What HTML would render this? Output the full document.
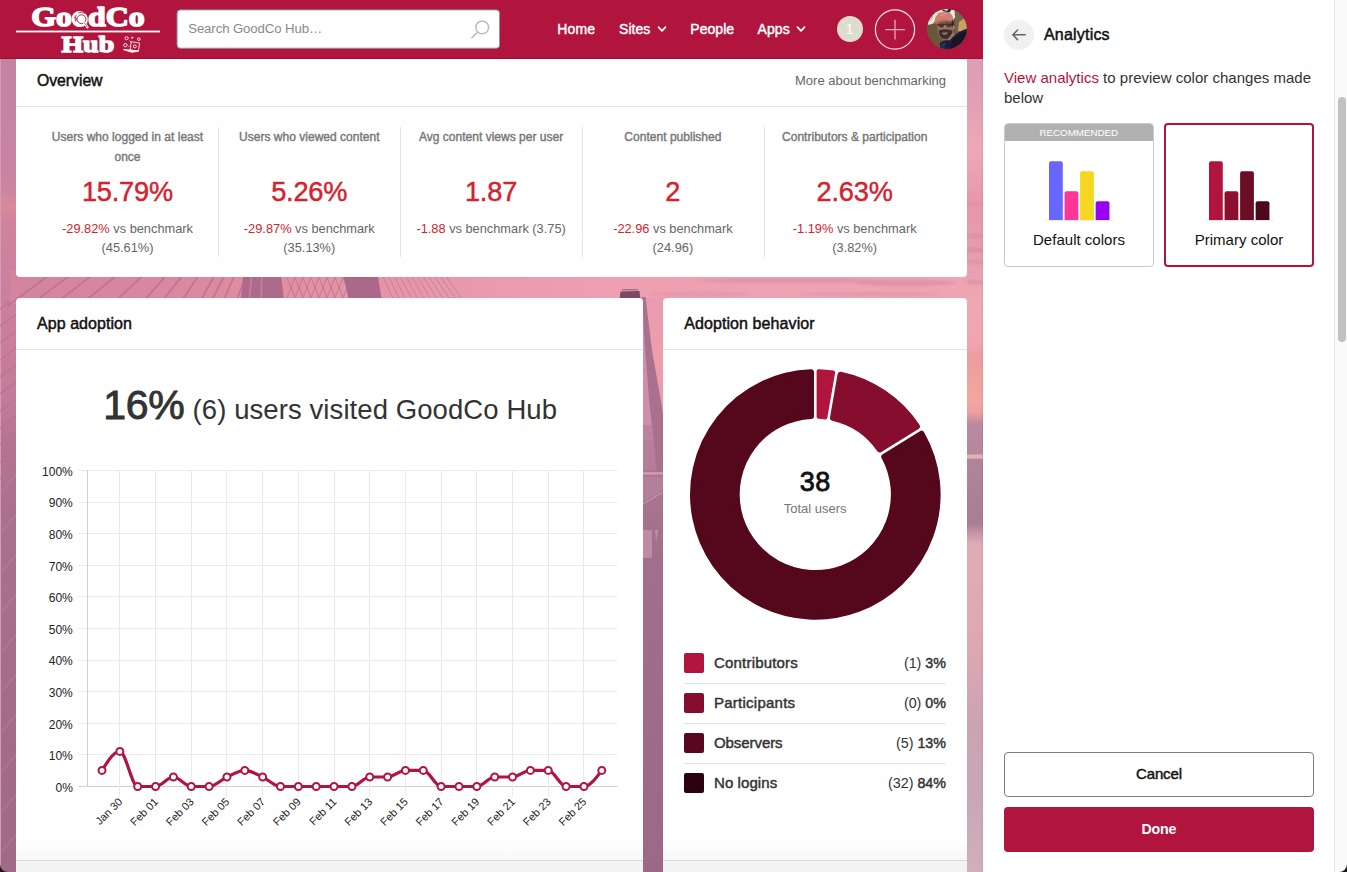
<!DOCTYPE html>
<html><head><meta charset="utf-8"><title>GoodCo Hub</title>
<style>
html,body{margin:0;padding:0}
body{width:1347px;height:872px;overflow:hidden;position:relative;background:#fff;font-family:"Liberation Sans",sans-serif;}
#main{position:absolute;left:0;top:0;width:983px;height:872px;overflow:hidden;background:#c07c9e}
#panel{position:absolute;left:983px;top:0;width:364px;height:872px;background:#fff;overflow:hidden}
.card{position:absolute;background:#fff;border-radius:4px}
.hl{position:absolute;height:1px;background:#e3e3e3}
.vl{position:absolute;width:1px;background:#e3e3e3}
</style></head><body>
<div id="main">

<svg style="position:absolute;left:0;top:0" width="983" height="872" viewBox="0 0 983 872">
<defs>
<linearGradient id="gL" x1="0" y1="58" x2="0" y2="872" gradientUnits="userSpaceOnUse">
<stop offset="0.0000" stop-color="#c483a5"/><stop offset="0.1130" stop-color="#c683a3"/><stop offset="0.1646" stop-color="#cd849e"/><stop offset="0.1818" stop-color="#d98b9c"/><stop offset="0.2015" stop-color="#cf839c"/><stop offset="0.2727" stop-color="#cc809d"/><stop offset="0.3464" stop-color="#ca7e9b"/><stop offset="0.4201" stop-color="#c27b98"/><stop offset="0.4816" stop-color="#b27491"/><stop offset="0.5676" stop-color="#ab708e"/><stop offset="0.7887" stop-color="#a56c8a"/><stop offset="1.0000" stop-color="#a06a88"/>
</linearGradient>
<linearGradient id="gH" x1="16" y1="0" x2="967" y2="0" gradientUnits="userSpaceOnUse">
<stop offset="0" stop-color="#d3849f"/><stop offset="0.2" stop-color="#dc88a0"/><stop offset="0.24" stop-color="#e08ca0"/><stop offset="0.45" stop-color="#e898ac"/><stop offset="0.62" stop-color="#ee9fb1"/><stop offset="1" stop-color="#eea4b3"/>
</linearGradient>
<linearGradient id="gV" x1="0" y1="298" x2="0" y2="872" gradientUnits="userSpaceOnUse">
<stop offset="0" stop-color="#e99cb0"/><stop offset="0.12" stop-color="#ee9eaa"/><stop offset="0.20" stop-color="#ea9ba8"/><stop offset="0.222" stop-color="#b27e99"/><stop offset="0.30" stop-color="#ab7690"/><stop offset="0.46" stop-color="#a16f8b"/><stop offset="1" stop-color="#9b6985"/>
</linearGradient>
<linearGradient id="gR" x1="0" y1="58" x2="0" y2="872" gradientUnits="userSpaceOnUse">
<stop offset="0.0000" stop-color="#d99fb4"/><stop offset="0.0393" stop-color="#e19fb3"/><stop offset="0.1130" stop-color="#eda8b8"/><stop offset="0.1744" stop-color="#e798aa"/><stop offset="0.2359" stop-color="#e69cab"/><stop offset="0.2973" stop-color="#efa7b4"/><stop offset="0.3464" stop-color="#f0a6b0"/><stop offset="0.3686" stop-color="#ee9c9c"/><stop offset="0.4201" stop-color="#f2a69f"/><stop offset="0.4349" stop-color="#eda09f"/><stop offset="0.4496" stop-color="#ba8a9f"/><stop offset="0.4865" stop-color="#b5869c"/><stop offset="0.4877" stop-color="#e6b0b8"/><stop offset="0.4914" stop-color="#e6b0b8"/><stop offset="0.4932" stop-color="#b08498"/><stop offset="0.5725" stop-color="#a97e95"/><stop offset="0.5848" stop-color="#c898a8"/><stop offset="0.5983" stop-color="#e0acb6"/><stop offset="0.7150" stop-color="#dfa8b1"/><stop offset="0.8133" stop-color="#cda3b3"/><stop offset="0.9115" stop-color="#c8a7b7"/><stop offset="1.0000" stop-color="#d0b0bc"/>
</linearGradient>
<filter id="bb" x="-5%" y="-5%" width="110%" height="110%"><feGaussianBlur stdDeviation="0.6"/></filter>
<filter id="bb2" x="-5%" y="-5%" width="110%" height="110%"><feGaussianBlur stdDeviation="1.0"/></filter>
</defs>
<rect x="0" y="0" width="983" height="872" fill="#c98aa4"/>
<rect x="0" y="58" width="20" height="814" fill="url(#gL)"/>
<rect x="0" y="58" width="1" height="814" fill="#d29cb6"/>
<path d="M-4 312 L22 292.6" stroke="#b57091" stroke-width="1.5" opacity="0.55"/>
<path d="M-4 329 L22 309.6" stroke="#b57091" stroke-width="1.5" opacity="0.55"/>
<path d="M-4 346 L22 326.6" stroke="#b57091" stroke-width="1.5" opacity="0.55"/>
<path d="M-4 363 L22 343.6" stroke="#b57091" stroke-width="1.5" opacity="0.55"/>
<path d="M-4 380 L22 360.6" stroke="#b57091" stroke-width="1.5" opacity="0.55"/>
<path d="M-4 397 L22 377.6" stroke="#b57091" stroke-width="1.5" opacity="0.55"/>
<path d="M-4 414 L22 394.6" stroke="#b57091" stroke-width="1.5" opacity="0.55"/>
<path d="M-4 431 L22 411.6" stroke="#b57091" stroke-width="1.5" opacity="0.55"/>
<path d="M-4 448 L22 428.6" stroke="#b57091" stroke-width="1.5" opacity="0.55"/>
<path d="M-4 465 L22 445.6" stroke="#b57091" stroke-width="1.5" opacity="0.55"/>
<path d="M-4 482 L22 462.6" stroke="#b57091" stroke-width="1.5" opacity="0.55"/>
<path d="M-2 496 L20 470" stroke="#bf8aa6" stroke-width="1.2" opacity="0.45"/>
<path d="M-2 536 L20 510" stroke="#bf8aa6" stroke-width="1.2" opacity="0.45"/>
<path d="M-2 576 L20 550" stroke="#bf8aa6" stroke-width="1.2" opacity="0.45"/>
<path d="M-2 616 L20 590" stroke="#bf8aa6" stroke-width="1.2" opacity="0.45"/>
<path d="M-2 656 L20 630" stroke="#bf8aa6" stroke-width="1.2" opacity="0.45"/>
<path d="M-2 696 L20 670" stroke="#bf8aa6" stroke-width="1.2" opacity="0.45"/>
<path d="M-2 736 L20 710" stroke="#bf8aa6" stroke-width="1.2" opacity="0.45"/>
<path d="M-2 776 L20 750" stroke="#bf8aa6" stroke-width="1.2" opacity="0.45"/>
<path d="M-2 816 L20 790" stroke="#bf8aa6" stroke-width="1.2" opacity="0.45"/>
<path d="M-2 856 L20 830" stroke="#bf8aa6" stroke-width="1.2" opacity="0.45"/>
<path d="M-2 896 L20 870" stroke="#bf8aa6" stroke-width="1.2" opacity="0.45"/>
<rect x="10" y="270" width="964" height="34" fill="url(#gH)"/>
<g filter="url(#bb)">
<path d="M7.9 305.8 L58.0 268.4" stroke="#b66f8e" stroke-width="1.8" opacity="0.75"/>
<path d="M29.2 305.8 L79.3 268.4" stroke="#b66f8e" stroke-width="1.8" opacity="0.75"/>
<path d="M52.7 305.8 L100.9 268.4" stroke="#b66f8e" stroke-width="1.8" opacity="0.75"/>
<path d="M79.1 305.8 L125.4 268.4" stroke="#b66f8e" stroke-width="1.8" opacity="0.75"/>
<path d="M110.1 305.8 L150.6 268.4" stroke="#b66f8e" stroke-width="1.8" opacity="0.75"/>
<path d="M139.6 305.8 L172.4 268.4" stroke="#b66f8e" stroke-width="1.8" opacity="0.75"/>
<path d="M158.8 305.8 L187.7 268.4" stroke="#b66f8e" stroke-width="1.8" opacity="0.75"/>
<path d="M178.3 305.8 L203.4 268.4" stroke="#b66f8e" stroke-width="1.8" opacity="0.75"/>
<path d="M197.5 305.8 L218.7 268.4" stroke="#b66f8e" stroke-width="1.8" opacity="0.75"/>
<path d="M208.9 305.8 L228.2 268.4" stroke="#b66f8e" stroke-width="1.8" opacity="0.75"/>
<path d="M221.1 305.8 L237.5 268.4" stroke="#b66f8e" stroke-width="1.8" opacity="0.75"/>
<path d="M234.5 305.8 L248.8 268.4" stroke="#b66f8e" stroke-width="1.8" opacity="0.75"/>
<path d="M243.5 270 L280.5 270 L284.5 305 L240.5 305 Z" fill="#ae6b8b"/>
<path d="M252 270 L249 305 M262 270 L261 305" stroke="#c98aa3" stroke-width="1.6" opacity="0.7"/>
<path d="M284 270 L298 305" stroke="#b97692" stroke-width="1.0" opacity="0.8"/>
<path d="M298 270 L284 305" stroke="#b97692" stroke-width="1.0" opacity="0.8"/>
<path d="M292 270 L306 305" stroke="#b97692" stroke-width="1.0" opacity="0.8"/>
<path d="M306 270 L292 305" stroke="#b97692" stroke-width="1.0" opacity="0.8"/>
<path d="M300 270 L314 305" stroke="#b97692" stroke-width="1.0" opacity="0.8"/>
<path d="M314 270 L300 305" stroke="#b97692" stroke-width="1.0" opacity="0.8"/>
<path d="M308 270 L322 305" stroke="#b97692" stroke-width="1.0" opacity="0.8"/>
<path d="M322 270 L308 305" stroke="#b97692" stroke-width="1.0" opacity="0.8"/>
<path d="M316 270 L330 305" stroke="#b97692" stroke-width="1.0" opacity="0.8"/>
<path d="M330 270 L316 305" stroke="#b97692" stroke-width="1.0" opacity="0.8"/>
<path d="M324 270 L338 305" stroke="#b97692" stroke-width="1.0" opacity="0.8"/>
<path d="M338 270 L324 305" stroke="#b97692" stroke-width="1.0" opacity="0.8"/>
<path d="M332 270 L346 305" stroke="#b97692" stroke-width="1.0" opacity="0.8"/>
<path d="M346 270 L332 305" stroke="#b97692" stroke-width="1.0" opacity="0.8"/>
<path d="M340 270 L354 305" stroke="#b97692" stroke-width="1.0" opacity="0.8"/>
<path d="M354 270 L340 305" stroke="#b97692" stroke-width="1.0" opacity="0.8"/>
<path d="M348 270 L362 305" stroke="#b97692" stroke-width="1.0" opacity="0.8"/>
<path d="M362 270 L348 305" stroke="#b97692" stroke-width="1.0" opacity="0.8"/>
<path d="M342 270 L377 270 L382.5 305 L350 305 Z" fill="#aa688a"/>
<path d="M380.0 270 L396.0 305" stroke="#bf7c96" stroke-width="1.0" opacity="0.8"/>
<path d="M385.6 270 L402.4 305" stroke="#bf7c96" stroke-width="1.0" opacity="0.8"/>
<path d="M391.2 270 L408.8 305" stroke="#bf7c96" stroke-width="1.0" opacity="0.8"/>
<path d="M396.8 270 L415.2 305" stroke="#bf7c96" stroke-width="1.0" opacity="0.8"/>
<path d="M402.4 270 L421.6 305" stroke="#bf7c96" stroke-width="1.0" opacity="0.8"/>
<path d="M408.0 270 L428.0 305" stroke="#bf7c96" stroke-width="1.0" opacity="0.8"/>
<path d="M413.6 270 L434.4 305" stroke="#bf7c96" stroke-width="1.0" opacity="0.8"/>
<path d="M419.2 270 L440.8 305" stroke="#bf7c96" stroke-width="1.0" opacity="0.8"/>
<path d="M424.8 270 L447.2 305" stroke="#bf7c96" stroke-width="1.0" opacity="0.8"/>
<path d="M430.4 270 L453.6 305" stroke="#bf7c96" stroke-width="1.0" opacity="0.8"/>
<path d="M436.0 270 L460.0 305" stroke="#bf7c96" stroke-width="1.0" opacity="0.8"/>
<path d="M441.6 270 L466.4 305" stroke="#bf7c96" stroke-width="1.0" opacity="0.8"/>
<path d="M620.5 291.5 L639.5 291 L640.5 300 L619.5 300 Z" fill="#7a4a63"/>
<path d="M622 289.8 H638" stroke="#9a6680" stroke-width="1.2"/>
</g>
<g filter="url(#bb2)">
<ellipse cx="790" cy="280.5" rx="90" ry="2.6" fill="#d991a6" opacity="0.75"/>
<ellipse cx="905" cy="283" rx="50" ry="3.2" fill="#d890a4" opacity="0.75"/>
<ellipse cx="700" cy="294" rx="50" ry="2.4" fill="#e096a9" opacity="0.6"/>
<ellipse cx="870" cy="294" rx="70" ry="2.2" fill="#de95a7" opacity="0.6"/>
</g>
<rect x="640" y="297.5" width="26" height="575" fill="url(#gV)"/>
<g filter="url(#bb)">
<path d="M640 297 L643 297 L649 400 L655 440 L640 440 Z" fill="#cf8fa8"/>
<path d="M642 297 L645.5 297 L652 350 L663.5 416 L666 432 L666 520 L657 470 L649 400 L644.5 340 Z" fill="#aa718f"/>
<path d="M640 425 L652 425 L656 470 L640 470 Z" fill="#b88099" opacity="0.8"/>
<path d="M640 473.4 H666" stroke="#d49eb5" stroke-width="2.4"/>
<path d="M640 477 L666 476 L666 488 L640 504 Z" fill="#b4829b" opacity="0.9"/>
<path d="M640 506 L666 490" stroke="#c493aa" stroke-width="1.2"/>
<path d="M643 530 h9 v28 h-9 Z" fill="#c792a9" opacity="0.8"/>
<path d="M655 530 l3.4 0 l-2.4 12 Z" fill="#c792a9" opacity="0.8"/>
</g>
<rect x="962" y="58" width="22" height="814" fill="url(#gR)"/>
<g filter="url(#bb)" opacity="0.5">
<ellipse cx="975" cy="236" rx="9" ry="3" fill="#d98fa3"/>
<ellipse cx="975" cy="250" rx="9" ry="3" fill="#d68ca0"/>
<ellipse cx="975" cy="262" rx="9" ry="3" fill="#da92a4"/>
<ellipse cx="975" cy="282" rx="9" ry="3" fill="#d78fa2"/>
<ellipse cx="975" cy="204" rx="9" ry="3" fill="#dc90a6"/>
</g>
</svg>
<div style="position:absolute;left:0;top:0;width:983px;height:58px;background:#b1153d;border-bottom:1px solid #a00d33;box-sizing:content-box"></div>
<svg style="position:absolute;left:0;top:0" width="176" height="58" viewBox="0 0 176 58">
<g fill="#fff" stroke="#fff" font-family="Liberation Serif, serif" font-weight="700" stroke-linejoin="round">
<text x="31.2" y="25.8" font-size="28" stroke-width="1.5" textLength="113.6" lengthAdjust="spacingAndGlyphs">GoodCo</text>
<text x="61.4" y="51.8" font-size="23.2" stroke-width="1.35" textLength="52.8" lengthAdjust="spacingAndGlyphs">Hub</text>
</g>
<rect x="16" y="30.6" width="144" height="1.8" fill="#fff"/>
<!-- globe / magnifier in second o -->
<circle cx="79.4" cy="18.8" r="7.7" fill="#fff"/>
<circle cx="81.4" cy="19.2" r="4.4" fill="none" stroke="#b1153d" stroke-width="0.9"/>
<path d="M78.2 13.2 q3.4 -2.4 6.8 0.4 M75.6 21.4 q-1.6 -3.6 0.8 -6.6 M74 17 l2.6 1.4 l-0.8 2.4" fill="none" stroke="#b1153d" stroke-width="0.8"/>
<path d="M84.4 22.8 L87.4 27.2" stroke="#fff" stroke-width="2.4" stroke-linecap="round"/>
<path d="M84.6 23 L87.2 26.8" stroke="#b1153d" stroke-width="0.7" stroke-linecap="round"/>
<!-- hub icon: laptop + gears -->
<g fill="none" stroke="#fff" stroke-width="0.9" opacity="0.95">
<path d="M131.2 41.8 L139.6 43 L138.4 51.2 L130.2 50 Z"/>
<path d="M123.4 49.6 L130.2 50 L138.4 51.2 L131.8 52.3 Z" fill="#fff"/>
<circle cx="126.6" cy="38.2" r="1.6"/>
<circle cx="125.4" cy="45.2" r="1.7"/>
<circle cx="138.8" cy="39.2" r="1.3"/>
<circle cx="134.8" cy="46.4" r="1.5"/>
<path d="M131.4 36.4 l2.4 1.2 l-2.2 1.4 Z" fill="#fff" stroke="none"/>
<path d="M129.6 40.6 l1.4 1.4 M128.6 46.8 l1.2 -1.2" />
</g>
</svg>

<svg style="position:absolute;left:170px;top:4px" width="336" height="50" viewBox="170 4 336 50"><rect x="177.1" y="9.9" width="322.4" height="38.3" rx="3.2" fill="#fff" stroke="#8c9a96" stroke-width="1"/></svg>
<div style="position:absolute;top:20.33px;line-height:17px;font-size:13.2px;color:#8a8a8a;white-space:nowrap;letter-spacing:-0.097px;left:188.20px;">Search GoodCo Hub…</div>
<svg style="position:absolute;left:466px;top:16px" width="28" height="28" viewBox="0 0 28 28"><circle cx="16.2" cy="11.4" r="6.4" fill="none" stroke="#bdbdbd" stroke-width="1.5"/><path d="M11.6 16 L6 21.6" stroke="#bdbdbd" stroke-width="1.6" stroke-linecap="round"/></svg>
<div style="position:absolute;top:20.15px;line-height:18px;font-size:14px;color:#fff;white-space:nowrap;letter-spacing:0.188px;-webkit-text-stroke:0.42px #fff;left:557.20px;">Home</div>
<div style="position:absolute;top:20.15px;line-height:18px;font-size:14px;color:#fff;white-space:nowrap;letter-spacing:0.055px;-webkit-text-stroke:0.42px #fff;left:619.00px;">Sites</div>
<div style="position:absolute;top:20.15px;line-height:18px;font-size:14px;color:#fff;white-space:nowrap;letter-spacing:0.051px;-webkit-text-stroke:0.42px #fff;left:690.30px;">People</div>
<div style="position:absolute;top:20.15px;line-height:18px;font-size:14px;color:#fff;white-space:nowrap;letter-spacing:0.072px;-webkit-text-stroke:0.42px #fff;left:757.50px;">Apps</div>
<svg style="position:absolute;left:656.2px;top:23px" width="12" height="12" viewBox="0 0 12 12"><path d="M2.5 4.2 L6 7.8 L9.5 4.2" fill="none" stroke="#fff" stroke-width="1.7" stroke-linecap="round" stroke-linejoin="round"/></svg>
<svg style="position:absolute;left:795.2px;top:23px" width="12" height="12" viewBox="0 0 12 12"><path d="M2.5 4.2 L6 7.8 L9.5 4.2" fill="none" stroke="#fff" stroke-width="1.7" stroke-linecap="round" stroke-linejoin="round"/></svg>
<div style="position:absolute;left:836.5px;top:16px;width:26px;height:26px;border-radius:50%;background:#dedccf"></div>
<div style="position:absolute;top:20.15px;line-height:18px;font-size:14px;color:#fff;white-space:nowrap;letter-spacing:0.000px;left:549.60px;width:600px;text-align:center;text-indent:0.000px;">1</div>
<svg style="position:absolute;left:873px;top:8px" width="44" height="44" viewBox="0 0 44 44"><circle cx="22" cy="21.5" r="19.6" fill="none" stroke="#f6dfe4" stroke-width="1.25"/><path d="M22 11.8 V31.4 M12.2 21.6 H31.8" stroke="#e9a9b8" stroke-width="1.3" fill="none"/></svg>
<svg style="position:absolute;left:927px;top:9px" width="40" height="40" viewBox="0 0 40 40">
<defs>
<clipPath id="avc"><circle cx="20" cy="20" r="19.9"/></clipPath>
<filter id="avb" x="-20%" y="-20%" width="140%" height="140%"><feGaussianBlur stdDeviation="0.55"/></filter>
</defs>
<g clip-path="url(#avc)">
<rect width="40" height="40" fill="#6b583d"/>
<g filter="url(#avb)">
<path d="M-2 -2 H29 V8 L24 12 L8 14 L-2 17 Z" fill="#e6eadb"/>
<path d="M6.4 15 L12 3.6 L13.6 4.2 L8 16 Z" fill="#44563a"/>
<path d="M15 1.6 l7 2.4 l3 -4 l-3 -1 l-2 3 l-4 -1.6Z" fill="#262a26"/>
<path d="M3 12 l3 -5 M2 9 l2 -3" stroke="#9fb08a" stroke-width="1"/>
<path d="M27.6 1 L42 8 L42 22 L29 24 Z" fill="#786450"/>
<path d="M32 13 L38 9 L42 12 L42 22 L31 22 Z" fill="#c8a260"/>
<path d="M-2 15.6 L9.6 16.6 L14 42 L-2 42 Z" fill="#6a563b"/>
<!-- face -->
<path d="M10.6 12 Q18 9.4 25.6 11.6 Q27 20 25 25 Q22 31.6 17.6 31 Q12.6 30 11 24 Q9.8 18 10.6 12 Z" fill="#94705a"/>
<path d="M10.6 12 Q18 9.6 25.6 11.6 L25.8 15.4 Q18 13.4 10.6 15.8 Z" fill="#6b4c40"/>
<!-- hair right side -->
<path d="M24.6 10.4 q3.6 3 2.4 9.6 l-2.2 -1.6 Z" fill="#33262a"/>
<!-- ear / cheek highlight -->
<ellipse cx="26.6" cy="18.2" rx="1.1" ry="2" fill="#a98672"/>
<!-- cap -->
<path d="M7.4 13.4 Q7.4 4.4 17 2.6 Q25.8 2.4 26.8 11.4 Q17.6 8.8 9 14.6 Z" fill="#d07d70"/>
<path d="M12 5.4 Q17 2.8 23 4.4 Q19 4.6 13.6 7.6 Z" fill="#db8d80"/>
<path d="M7.2 14 Q14.4 9.2 25.2 11.2 L24.6 13 Q15.4 11.4 8.6 15.4 Z" fill="#b9655d"/>
<!-- glasses / eyes -->
<path d="M10.4 16 Q18 14.8 25.4 15.6" stroke="#2f2224" stroke-width="1.1" fill="none"/>
<ellipse cx="14.4" cy="16.8" rx="2.5" ry="1.7" fill="#4a342f"/>
<ellipse cx="21.8" cy="16.5" rx="2.5" ry="1.7" fill="#4a342f"/>
<!-- nose -->
<path d="M17.4 16.6 l1.4 0 l0.6 4 l-2.6 0.2 Z" fill="#a07a63"/>
<!-- beard -->
<path d="M11.8 21.6 Q14 20.6 18.4 20.2 Q22.6 20.4 25.2 21.6 Q25.4 27 21.4 29.6 Q17.4 31.2 13.8 28.6 Q11.6 26 11.8 21.6 Z" fill="#3d2d2d"/>
<path d="M14.6 23.8 Q17.8 22.6 21.2 23.6 Q20 26 17.6 26 Q15.6 26 14.6 23.8 Z" fill="#9c6b63"/>

<!-- neck -->
<path d="M20.6 30 L26.6 23 L29 29 L22.6 34 Z" fill="#9c745c"/>
<!-- shirt -->
<path d="M12.8 34 Q17 30.4 22.6 31.6 Q29 22.6 42 19 L42 42 L13.4 42 Z" fill="#1c1e3a"/>
<path d="M25 32 Q31 25 42 22 L42 29 Q33 34 28 42 L22 42 Z" fill="#121327"/>
<path d="M14 35 Q16 33 18.6 33.4 L17.4 42 L13.6 42Z" fill="#2a2d52"/>
</g>
</g>
</svg>

<div class="card" style="left:16px;top:59px;width:951px;height:218px;border-radius:0 0 4px 4px"></div>
<div style="position:absolute;top:70.03px;line-height:21px;font-size:15.8px;color:#111;white-space:nowrap;letter-spacing:-0.043px;-webkit-text-stroke:0.47px #111;left:37.00px;">Overview</div>
<div style="position:absolute;top:71.70px;line-height:17px;font-size:13px;color:#666;white-space:nowrap;letter-spacing:-0.002px;left:346.00px;width:599.998px;text-align:right;">More about benchmarking</div>
<div class="hl" style="left:16px;top:106px;width:951px"></div>
<div class="vl" style="left:218px;top:127px;height:130px"></div>
<div class="vl" style="left:400px;top:127px;height:130px"></div>
<div class="vl" style="left:582px;top:127px;height:130px"></div>
<div class="vl" style="left:764px;top:127px;height:130px"></div>
<div style="position:absolute;top:129.04px;line-height:16px;font-size:12px;color:#777;white-space:nowrap;letter-spacing:0.020px;-webkit-text-stroke:0.40px #777;left:-172.50px;width:600px;text-align:center;text-indent:0.020px;">Users who logged in at least</div>
<div style="position:absolute;top:149.04px;line-height:16px;font-size:12px;color:#777;white-space:nowrap;letter-spacing:0.020px;-webkit-text-stroke:0.40px #777;left:-172.50px;width:600px;text-align:center;text-indent:0.020px;">once</div>
<div style="position:absolute;top:173.68px;line-height:35px;font-size:27.2px;color:#d3232f;white-space:nowrap;letter-spacing:-0.200px;left:-172.50px;width:600px;text-align:center;text-indent:-0.200px;-webkit-text-stroke:0.45px #d3232f;">15.79%</div>
<div style="position:absolute;top:219.86px;line-height:17px;font-size:12.8px;color:#666;white-space:nowrap;letter-spacing:0.000px;left:-172.50px;width:600px;text-align:center;text-indent:0.000px;"><span style="color:#d3232f">-29.82%</span> vs benchmark</div>
<div style="position:absolute;top:238.86px;line-height:17px;font-size:12.8px;color:#666;white-space:nowrap;letter-spacing:0.000px;left:-172.50px;width:600px;text-align:center;text-indent:0.000px;">(45.61%)</div>
<div style="position:absolute;top:129.04px;line-height:16px;font-size:12px;color:#777;white-space:nowrap;letter-spacing:0.020px;-webkit-text-stroke:0.40px #777;left:9.30px;width:600px;text-align:center;text-indent:0.020px;">Users who viewed content</div>
<div style="position:absolute;top:173.68px;line-height:35px;font-size:27.2px;color:#d3232f;white-space:nowrap;letter-spacing:-0.200px;left:9.30px;width:600px;text-align:center;text-indent:-0.200px;-webkit-text-stroke:0.45px #d3232f;">5.26%</div>
<div style="position:absolute;top:219.86px;line-height:17px;font-size:12.8px;color:#666;white-space:nowrap;letter-spacing:0.000px;left:9.30px;width:600px;text-align:center;text-indent:0.000px;"><span style="color:#d3232f">-29.87%</span> vs benchmark</div>
<div style="position:absolute;top:238.86px;line-height:17px;font-size:12.8px;color:#666;white-space:nowrap;letter-spacing:0.000px;left:9.30px;width:600px;text-align:center;text-indent:0.000px;">(35.13%)</div>
<div style="position:absolute;top:129.04px;line-height:16px;font-size:12px;color:#777;white-space:nowrap;letter-spacing:0.020px;-webkit-text-stroke:0.40px #777;left:191.10px;width:600px;text-align:center;text-indent:0.020px;">Avg content views per user</div>
<div style="position:absolute;top:173.68px;line-height:35px;font-size:27.2px;color:#d3232f;white-space:nowrap;letter-spacing:-0.200px;left:191.10px;width:600px;text-align:center;text-indent:-0.200px;-webkit-text-stroke:0.45px #d3232f;">1.87</div>
<div style="position:absolute;top:219.86px;line-height:17px;font-size:12.8px;color:#666;white-space:nowrap;letter-spacing:0.000px;left:191.10px;width:600px;text-align:center;text-indent:0.000px;"><span style="color:#d3232f">-1.88</span> vs benchmark (3.75)</div>
<div style="position:absolute;top:129.04px;line-height:16px;font-size:12px;color:#777;white-space:nowrap;letter-spacing:0.020px;-webkit-text-stroke:0.40px #777;left:372.90px;width:600px;text-align:center;text-indent:0.020px;">Content published</div>
<div style="position:absolute;top:173.68px;line-height:35px;font-size:27.2px;color:#d3232f;white-space:nowrap;letter-spacing:-0.200px;left:372.90px;width:600px;text-align:center;text-indent:-0.200px;-webkit-text-stroke:0.45px #d3232f;">2</div>
<div style="position:absolute;top:219.86px;line-height:17px;font-size:12.8px;color:#666;white-space:nowrap;letter-spacing:0.000px;left:372.90px;width:600px;text-align:center;text-indent:0.000px;"><span style="color:#d3232f">-22.96</span> vs benchmark</div>
<div style="position:absolute;top:238.86px;line-height:17px;font-size:12.8px;color:#666;white-space:nowrap;letter-spacing:0.000px;left:372.90px;width:600px;text-align:center;text-indent:0.000px;">(24.96)</div>
<div style="position:absolute;top:129.04px;line-height:16px;font-size:12px;color:#777;white-space:nowrap;letter-spacing:0.020px;-webkit-text-stroke:0.40px #777;left:554.70px;width:600px;text-align:center;text-indent:0.020px;">Contributors &amp; participation</div>
<div style="position:absolute;top:173.68px;line-height:35px;font-size:27.2px;color:#d3232f;white-space:nowrap;letter-spacing:-0.200px;left:554.70px;width:600px;text-align:center;text-indent:-0.200px;-webkit-text-stroke:0.45px #d3232f;">2.63%</div>
<div style="position:absolute;top:219.86px;line-height:17px;font-size:12.8px;color:#666;white-space:nowrap;letter-spacing:0.000px;left:554.70px;width:600px;text-align:center;text-indent:0.000px;"><span style="color:#d3232f">-1.19%</span> vs benchmark</div>
<div style="position:absolute;top:238.86px;line-height:17px;font-size:12.8px;color:#666;white-space:nowrap;letter-spacing:0.000px;left:554.70px;width:600px;text-align:center;text-indent:0.000px;">(3.82%)</div>
<div class="card" style="left:16px;top:298px;width:627px;height:600px"></div>
<div style="position:absolute;top:312.76px;line-height:21px;font-size:16px;color:#111;white-space:nowrap;letter-spacing:0.058px;-webkit-text-stroke:0.48px #111;left:37.00px;">App adoption</div>
<div class="hl" style="left:16px;top:349px;width:627px"></div>
<div style="position:absolute;top:378.69px;line-height:53px;font-size:41px;color:#333;white-space:nowrap;letter-spacing:-0.354px;-webkit-text-stroke:1.23px #333;left:103.30px;-webkit-text-stroke:0.9px #333;">16%</div>
<div style="position:absolute;top:391.77px;line-height:36px;font-size:27.5px;color:#333;white-space:nowrap;letter-spacing:0.080px;left:192.60px;">(6) users visited GoodCo Hub</div>
<svg style="position:absolute;left:0;top:440px" width="660" height="420" viewBox="0 440 660 420">
<path d="M78.3 786.50 H617.3" stroke="#cfcfcf" stroke-width="1" fill="none"/>
<path d="M78.3 754.50 H617.3" stroke="#e9e9ee" stroke-width="1" fill="none"/>
<path d="M78.3 723.50 H617.3" stroke="#e9e9ee" stroke-width="1" fill="none"/>
<path d="M78.3 691.50 H617.3" stroke="#e9e9ee" stroke-width="1" fill="none"/>
<path d="M78.3 660.50 H617.3" stroke="#e9e9ee" stroke-width="1" fill="none"/>
<path d="M78.3 628.50 H617.3" stroke="#e9e9ee" stroke-width="1" fill="none"/>
<path d="M78.3 596.50 H617.3" stroke="#e9e9ee" stroke-width="1" fill="none"/>
<path d="M78.3 565.50 H617.3" stroke="#e9e9ee" stroke-width="1" fill="none"/>
<path d="M78.3 533.50 H617.3" stroke="#e9e9ee" stroke-width="1" fill="none"/>
<path d="M78.3 502.50 H617.3" stroke="#e9e9ee" stroke-width="1" fill="none"/>
<path d="M78.3 470.50 H617.3" stroke="#e9e9ee" stroke-width="1" fill="none"/>
<path d="M119.50 470.50 V795.80" stroke="#e9e9ee" stroke-width="1" fill="none"/>
<path d="M155.50 470.50 V795.80" stroke="#e9e9ee" stroke-width="1" fill="none"/>
<path d="M191.50 470.50 V795.80" stroke="#e9e9ee" stroke-width="1" fill="none"/>
<path d="M226.50 470.50 V795.80" stroke="#e9e9ee" stroke-width="1" fill="none"/>
<path d="M262.50 470.50 V795.80" stroke="#e9e9ee" stroke-width="1" fill="none"/>
<path d="M298.50 470.50 V795.80" stroke="#e9e9ee" stroke-width="1" fill="none"/>
<path d="M334.50 470.50 V795.80" stroke="#e9e9ee" stroke-width="1" fill="none"/>
<path d="M369.50 470.50 V795.80" stroke="#e9e9ee" stroke-width="1" fill="none"/>
<path d="M405.50 470.50 V795.80" stroke="#e9e9ee" stroke-width="1" fill="none"/>
<path d="M441.50 470.50 V795.80" stroke="#e9e9ee" stroke-width="1" fill="none"/>
<path d="M476.50 470.50 V795.80" stroke="#e9e9ee" stroke-width="1" fill="none"/>
<path d="M512.50 470.50 V795.80" stroke="#e9e9ee" stroke-width="1" fill="none"/>
<path d="M548.50 470.50 V795.80" stroke="#e9e9ee" stroke-width="1" fill="none"/>
<path d="M583.50 470.50 V795.80" stroke="#e9e9ee" stroke-width="1" fill="none"/>
<path d="M87.5 470.50 V786.50" stroke="#cfcfcf" stroke-width="1" fill="none"/>
<text x="72.8" y="791.70" text-anchor="end" font-family="Liberation Sans, sans-serif" font-size="12" fill="#222">0%</text>
<text x="72.8" y="760.10" text-anchor="end" font-family="Liberation Sans, sans-serif" font-size="12" fill="#222">10%</text>
<text x="72.8" y="728.50" text-anchor="end" font-family="Liberation Sans, sans-serif" font-size="12" fill="#222">20%</text>
<text x="72.8" y="696.90" text-anchor="end" font-family="Liberation Sans, sans-serif" font-size="12" fill="#222">30%</text>
<text x="72.8" y="665.30" text-anchor="end" font-family="Liberation Sans, sans-serif" font-size="12" fill="#222">40%</text>
<text x="72.8" y="633.70" text-anchor="end" font-family="Liberation Sans, sans-serif" font-size="12" fill="#222">50%</text>
<text x="72.8" y="602.10" text-anchor="end" font-family="Liberation Sans, sans-serif" font-size="12" fill="#222">60%</text>
<text x="72.8" y="570.50" text-anchor="end" font-family="Liberation Sans, sans-serif" font-size="12" fill="#222">70%</text>
<text x="72.8" y="538.90" text-anchor="end" font-family="Liberation Sans, sans-serif" font-size="12" fill="#222">80%</text>
<text x="72.8" y="507.30" text-anchor="end" font-family="Liberation Sans, sans-serif" font-size="12" fill="#222">90%</text>
<text x="72.8" y="475.70" text-anchor="end" font-family="Liberation Sans, sans-serif" font-size="12" fill="#222">100%</text>
<text transform="translate(123.05 802.50) rotate(-45)" text-anchor="end" font-family="Liberation Sans, sans-serif" font-size="10.9" fill="#222">Jan 30</text>
<text transform="translate(158.75 802.50) rotate(-45)" text-anchor="end" font-family="Liberation Sans, sans-serif" font-size="10.9" fill="#222">Feb 01</text>
<text transform="translate(194.45 802.50) rotate(-45)" text-anchor="end" font-family="Liberation Sans, sans-serif" font-size="10.9" fill="#222">Feb 03</text>
<text transform="translate(230.15 802.50) rotate(-45)" text-anchor="end" font-family="Liberation Sans, sans-serif" font-size="10.9" fill="#222">Feb 05</text>
<text transform="translate(265.85 802.50) rotate(-45)" text-anchor="end" font-family="Liberation Sans, sans-serif" font-size="10.9" fill="#222">Feb 07</text>
<text transform="translate(301.55 802.50) rotate(-45)" text-anchor="end" font-family="Liberation Sans, sans-serif" font-size="10.9" fill="#222">Feb 09</text>
<text transform="translate(337.25 802.50) rotate(-45)" text-anchor="end" font-family="Liberation Sans, sans-serif" font-size="10.9" fill="#222">Feb 11</text>
<text transform="translate(372.95 802.50) rotate(-45)" text-anchor="end" font-family="Liberation Sans, sans-serif" font-size="10.9" fill="#222">Feb 13</text>
<text transform="translate(408.65 802.50) rotate(-45)" text-anchor="end" font-family="Liberation Sans, sans-serif" font-size="10.9" fill="#222">Feb 15</text>
<text transform="translate(444.35 802.50) rotate(-45)" text-anchor="end" font-family="Liberation Sans, sans-serif" font-size="10.9" fill="#222">Feb 17</text>
<text transform="translate(480.05 802.50) rotate(-45)" text-anchor="end" font-family="Liberation Sans, sans-serif" font-size="10.9" fill="#222">Feb 19</text>
<text transform="translate(515.75 802.50) rotate(-45)" text-anchor="end" font-family="Liberation Sans, sans-serif" font-size="10.9" fill="#222">Feb 21</text>
<text transform="translate(551.45 802.50) rotate(-45)" text-anchor="end" font-family="Liberation Sans, sans-serif" font-size="10.9" fill="#222">Feb 23</text>
<text transform="translate(587.15 802.50) rotate(-45)" text-anchor="end" font-family="Liberation Sans, sans-serif" font-size="10.9" fill="#222">Feb 25</text>
<path d="M102.00 770.38 C107.95 760.90 113.90 751.42 119.85 751.42 C125.80 751.42 131.75 786.50 137.70 786.50 C143.65 786.50 149.60 786.50 155.55 786.50 C161.50 786.50 167.45 777.02 173.40 777.02 C179.35 777.02 185.30 786.50 191.25 786.50 C197.20 786.50 203.15 786.50 209.10 786.50 C215.05 786.50 221.00 779.71 226.95 777.02 C232.90 774.33 238.85 770.38 244.80 770.38 C250.75 770.38 256.70 774.33 262.65 777.02 C268.60 779.71 274.55 786.50 280.50 786.50 C286.45 786.50 292.40 786.50 298.35 786.50 C304.30 786.50 310.25 786.50 316.20 786.50 C322.15 786.50 328.10 786.50 334.05 786.50 C340.00 786.50 345.95 786.50 351.90 786.50 C357.85 786.50 363.80 777.02 369.75 777.02 C375.70 777.02 381.65 777.02 387.60 777.02 C393.55 777.02 399.50 770.38 405.45 770.38 C411.40 770.38 417.35 770.38 423.30 770.38 C429.25 770.38 435.20 786.50 441.15 786.50 C447.10 786.50 453.05 786.50 459.00 786.50 C464.95 786.50 470.90 786.50 476.85 786.50 C482.80 786.50 488.75 777.02 494.70 777.02 C500.65 777.02 506.60 777.02 512.55 777.02 C518.50 777.02 524.45 770.38 530.40 770.38 C536.35 770.38 542.30 770.38 548.25 770.38 C554.20 770.38 560.15 786.50 566.10 786.50 C572.05 786.50 578.00 786.50 583.95 786.50 C589.90 786.50 595.85 778.44 601.80 770.38" fill="none" stroke="#b1153d" stroke-width="3.2" stroke-linejoin="round" stroke-linecap="round"/>
<circle cx="102.00" cy="770.38" r="3.5" fill="#fff" stroke="#b1153d" stroke-width="2"/>
<circle cx="119.85" cy="751.42" r="3.5" fill="#fff" stroke="#b1153d" stroke-width="2"/>
<circle cx="137.70" cy="786.50" r="3.5" fill="#fff" stroke="#b1153d" stroke-width="2"/>
<circle cx="155.55" cy="786.50" r="3.5" fill="#fff" stroke="#b1153d" stroke-width="2"/>
<circle cx="173.40" cy="777.02" r="3.5" fill="#fff" stroke="#b1153d" stroke-width="2"/>
<circle cx="191.25" cy="786.50" r="3.5" fill="#fff" stroke="#b1153d" stroke-width="2"/>
<circle cx="209.10" cy="786.50" r="3.5" fill="#fff" stroke="#b1153d" stroke-width="2"/>
<circle cx="226.95" cy="777.02" r="3.5" fill="#fff" stroke="#b1153d" stroke-width="2"/>
<circle cx="244.80" cy="770.38" r="3.5" fill="#fff" stroke="#b1153d" stroke-width="2"/>
<circle cx="262.65" cy="777.02" r="3.5" fill="#fff" stroke="#b1153d" stroke-width="2"/>
<circle cx="280.50" cy="786.50" r="3.5" fill="#fff" stroke="#b1153d" stroke-width="2"/>
<circle cx="298.35" cy="786.50" r="3.5" fill="#fff" stroke="#b1153d" stroke-width="2"/>
<circle cx="316.20" cy="786.50" r="3.5" fill="#fff" stroke="#b1153d" stroke-width="2"/>
<circle cx="334.05" cy="786.50" r="3.5" fill="#fff" stroke="#b1153d" stroke-width="2"/>
<circle cx="351.90" cy="786.50" r="3.5" fill="#fff" stroke="#b1153d" stroke-width="2"/>
<circle cx="369.75" cy="777.02" r="3.5" fill="#fff" stroke="#b1153d" stroke-width="2"/>
<circle cx="387.60" cy="777.02" r="3.5" fill="#fff" stroke="#b1153d" stroke-width="2"/>
<circle cx="405.45" cy="770.38" r="3.5" fill="#fff" stroke="#b1153d" stroke-width="2"/>
<circle cx="423.30" cy="770.38" r="3.5" fill="#fff" stroke="#b1153d" stroke-width="2"/>
<circle cx="441.15" cy="786.50" r="3.5" fill="#fff" stroke="#b1153d" stroke-width="2"/>
<circle cx="459.00" cy="786.50" r="3.5" fill="#fff" stroke="#b1153d" stroke-width="2"/>
<circle cx="476.85" cy="786.50" r="3.5" fill="#fff" stroke="#b1153d" stroke-width="2"/>
<circle cx="494.70" cy="777.02" r="3.5" fill="#fff" stroke="#b1153d" stroke-width="2"/>
<circle cx="512.55" cy="777.02" r="3.5" fill="#fff" stroke="#b1153d" stroke-width="2"/>
<circle cx="530.40" cy="770.38" r="3.5" fill="#fff" stroke="#b1153d" stroke-width="2"/>
<circle cx="548.25" cy="770.38" r="3.5" fill="#fff" stroke="#b1153d" stroke-width="2"/>
<circle cx="566.10" cy="786.50" r="3.5" fill="#fff" stroke="#b1153d" stroke-width="2"/>
<circle cx="583.95" cy="786.50" r="3.5" fill="#fff" stroke="#b1153d" stroke-width="2"/>
<circle cx="601.80" cy="770.38" r="3.5" fill="#fff" stroke="#b1153d" stroke-width="2"/>
</svg>
<div style="position:absolute;left:16px;top:840px;width:627px;height:20px;background:linear-gradient(#fff,#f8f8f8)"></div>
<div style="position:absolute;left:16px;top:860px;width:627px;height:12px;background:#f3f3f3;border-top:1px solid #dcdcdc"></div>
<div class="card" style="left:663px;top:298px;width:304px;height:600px"></div>
<div style="position:absolute;top:312.96px;line-height:21px;font-size:16px;color:#111;white-space:nowrap;letter-spacing:0.089px;-webkit-text-stroke:0.48px #111;left:684.20px;">Adoption behavior</div>
<div class="hl" style="left:663px;top:349px;width:304px"></div>
<svg style="position:absolute;left:680px;top:360px" width="272" height="272" viewBox="680 360 272 272">
<path d="M818.60 371.14 A123.30 123.30 0 0 1 833.18 372.40 L825.34 417.45 A77.60 77.60 0 0 0 818.60 416.87 Z" fill="#b1153d" stroke="#b1153d" stroke-width="4.0" stroke-linejoin="round"/>
<path d="M840.49 374.72 A122.30 122.30 0 0 1 916.96 426.41 L879.77 449.44 A78.60 78.60 0 0 0 832.99 417.82 Z" fill="#850e2e" stroke="#850e2e" stroke-width="6.0" stroke-linejoin="round"/>
<path d="M921.49 433.72 A122.30 122.30 0 1 1 811.00 372.18 L811.00 415.92 A78.60 78.60 0 1 0 884.29 456.75 Z" fill="#55081c" stroke="#55081c" stroke-width="6.0" stroke-linejoin="round"/>
</svg>
<div style="position:absolute;top:464.74px;line-height:35px;font-size:27px;color:#111;white-space:nowrap;letter-spacing:0.300px;-webkit-text-stroke:0.81px #111;left:515.00px;width:600px;text-align:center;text-indent:0.300px;">38</div>
<div style="position:absolute;top:500.20px;line-height:17px;font-size:13px;color:#777;white-space:nowrap;letter-spacing:0.000px;left:515.20px;width:600px;text-align:center;text-indent:0.000px;">Total users</div>
<div style="position:absolute;left:684px;top:653px;width:20px;height:20px;border-radius:2px;background:#b1153d"></div>
<div style="position:absolute;top:652.80px;line-height:20px;font-size:15px;color:#333;white-space:nowrap;letter-spacing:0.191px;-webkit-text-stroke:0.45px #333;left:714.00px;">Contributors</div>
<div style="position:absolute;top:653.55px;line-height:19px;font-size:14.3px;color:#333;white-space:nowrap;letter-spacing:0.000px;left:346.00px;width:600.000px;text-align:right;">(1) <span style="-webkit-text-stroke:0.45px #333">3%</span></div>
<div class="hl" style="left:684px;top:683px;width:262px"></div>
<div style="position:absolute;left:684px;top:693px;width:20px;height:20px;border-radius:2px;background:#850e2e"></div>
<div style="position:absolute;top:692.80px;line-height:20px;font-size:15px;color:#333;white-space:nowrap;letter-spacing:0.244px;-webkit-text-stroke:0.45px #333;left:714.00px;">Participants</div>
<div style="position:absolute;top:693.55px;line-height:19px;font-size:14.3px;color:#333;white-space:nowrap;letter-spacing:0.000px;left:346.00px;width:600.000px;text-align:right;">(0) <span style="-webkit-text-stroke:0.45px #333">0%</span></div>
<div class="hl" style="left:684px;top:723px;width:262px"></div>
<div style="position:absolute;left:684px;top:733px;width:20px;height:20px;border-radius:2px;background:#58081e"></div>
<div style="position:absolute;top:732.80px;line-height:20px;font-size:15px;color:#333;white-space:nowrap;letter-spacing:-0.076px;-webkit-text-stroke:0.45px #333;left:714.00px;">Observers</div>
<div style="position:absolute;top:733.55px;line-height:19px;font-size:14.3px;color:#333;white-space:nowrap;letter-spacing:0.000px;left:346.00px;width:600.000px;text-align:right;">(5) <span style="-webkit-text-stroke:0.45px #333">13%</span></div>
<div class="hl" style="left:684px;top:763px;width:262px"></div>
<div style="position:absolute;left:684px;top:773px;width:20px;height:20px;border-radius:2px;background:#2a030e"></div>
<div style="position:absolute;top:772.80px;line-height:20px;font-size:15px;color:#333;white-space:nowrap;letter-spacing:0.085px;-webkit-text-stroke:0.45px #333;left:714.00px;">No logins</div>
<div style="position:absolute;top:773.55px;line-height:19px;font-size:14.3px;color:#333;white-space:nowrap;letter-spacing:0.000px;left:346.00px;width:600.000px;text-align:right;">(32) <span style="-webkit-text-stroke:0.45px #333">84%</span></div>
<div style="position:absolute;left:663px;top:840px;width:304px;height:20px;background:linear-gradient(#fff,#f8f8f8)"></div>
<div style="position:absolute;left:663px;top:860px;width:304px;height:12px;background:#f3f3f3;border-top:1px solid #dcdcdc"></div>
<div style="position:absolute;left:981px;top:59px;width:2px;height:813px;background:linear-gradient(90deg,rgba(90,50,70,0),rgba(90,50,70,0.10))"></div>
</div>
<div id="panel">
<div style="position:absolute;left:21px;top:20px;width:30px;height:30px;border-radius:50%;background:#f0f0f0"></div>
<svg style="position:absolute;left:26px;top:25px" width="20" height="20" viewBox="0 0 20 20"><path d="M16.2 9.8 H4 M8.6 5 L3.8 9.8 L8.6 14.6" fill="none" stroke="#666" stroke-width="1.5" stroke-linecap="round" stroke-linejoin="round"/></svg>
<div style="position:absolute;top:24.26px;line-height:21px;font-size:16px;color:#111;white-space:nowrap;letter-spacing:0.197px;-webkit-text-stroke:0.48px #111;left:61.00px;">Analytics</div>
<div style="position:absolute;top:68.00px;line-height:20px;font-size:15px;color:#333;white-space:nowrap;letter-spacing:0.010px;left:21.00px;"><span style="color:#b1153d">View analytics</span> to preview color changes made</div>
<div style="position:absolute;top:87.80px;line-height:20px;font-size:15px;color:#333;white-space:nowrap;letter-spacing:0.000px;left:21.00px;">below</div>
<div style="position:absolute;left:21px;top:123px;width:148px;height:142px;border:1px solid #c9c9c9;border-radius:4px;overflow:hidden;background:#fff"><div style="height:17px;background:#b1b1b1"></div></div>
<div style="position:absolute;top:125.90px;line-height:13px;font-size:9.8px;color:#fff;white-space:nowrap;letter-spacing:-0.030px;left:-204.20px;width:600px;text-align:center;text-indent:-0.030px;">RECOMMENDED</div>
<svg style="position:absolute;left:55.799999999999955px;top:150px" width="84" height="80" viewBox="1038.8 150 84 80"><path d="M1048.80 220.2 V163.20 Q1048.80 161.20 1050.80 161.20 H1060.60 Q1062.60 161.20 1062.60 163.20 V220.2 Z" fill="#6966ff"/><path d="M1064.35 220.2 V193.20 Q1064.35 191.20 1066.35 191.20 H1076.15 Q1078.15 191.20 1078.15 193.20 V220.2 Z" fill="#ff3597"/><path d="M1079.90 220.2 V173.20 Q1079.90 171.20 1081.90 171.20 H1091.70 Q1093.70 171.20 1093.70 173.20 V220.2 Z" fill="#f5d621"/><path d="M1095.45 220.2 V203.20 Q1095.45 201.20 1097.45 201.20 H1107.25 Q1109.25 201.20 1109.25 203.20 V220.2 Z" fill="#9900f5"/><rect x="1044.2" y="220.2" width="70" height="1" fill="#eeeeee"/></svg>
<div style="position:absolute;top:229.80px;line-height:20px;font-size:15px;color:#111;white-space:nowrap;letter-spacing:0.020px;left:-204.00px;width:600px;text-align:center;text-indent:0.020px;">Default colors</div>
<div style="position:absolute;left:181px;top:123px;width:146px;height:140px;border:2px solid #b1153d;border-radius:4px;background:#fff"></div>
<svg style="position:absolute;left:215.79999999999995px;top:150px" width="84" height="80" viewBox="1198.8 150 84 80"><path d="M1208.80 220.2 V163.20 Q1208.80 161.20 1210.80 161.20 H1220.60 Q1222.60 161.20 1222.60 163.20 V220.2 Z" fill="#b1153d"/><path d="M1224.35 220.2 V193.20 Q1224.35 191.20 1226.35 191.20 H1236.15 Q1238.15 191.20 1238.15 193.20 V220.2 Z" fill="#8b1030"/><path d="M1239.90 220.2 V173.20 Q1239.90 171.20 1241.90 171.20 H1251.70 Q1253.70 171.20 1253.70 173.20 V220.2 Z" fill="#6b0d25"/><path d="M1255.45 220.2 V203.20 Q1255.45 201.20 1257.45 201.20 H1267.25 Q1269.25 201.20 1269.25 203.20 V220.2 Z" fill="#4b0819"/><rect x="1204.2" y="220.2" width="70" height="1" fill="#eeeeee"/></svg>
<div style="position:absolute;top:229.80px;line-height:20px;font-size:15px;color:#111;white-space:nowrap;letter-spacing:0.020px;left:-44.00px;width:600px;text-align:center;text-indent:0.020px;">Primary color</div>
<div style="position:absolute;left:21px;top:752px;width:308px;height:43px;border:1px solid #7d7d7d;border-radius:4px;background:#fff"></div>
<div style="position:absolute;top:764.20px;line-height:20px;font-size:15px;color:#111;white-space:nowrap;letter-spacing:-0.150px;-webkit-text-stroke:0.45px #111;left:-124.00px;width:600px;text-align:center;text-indent:-0.150px;">Cancel</div>
<div style="position:absolute;left:21px;top:807px;width:310px;height:45px;border-radius:4px;background:#b1153d"></div>
<div style="position:absolute;top:820.48px;line-height:18px;font-size:14.2px;color:#fff;white-space:nowrap;letter-spacing:-0.200px;font-weight:700;left:-124.00px;width:600px;text-align:center;text-indent:-0.200px;">Done</div>
<div style="position:absolute;left:351px;top:0;width:13px;height:872px;background:#fafafa;border-left:1px solid #e6e6e6;box-sizing:border-box"></div>
<div style="position:absolute;left:354.5px;top:97px;width:8px;height:245px;border-radius:4px;background:#c1c1c1"></div>
</div>
<div style="position:absolute;left:0;top:-40px;width:1347px;height:912px;border-radius:0 0 8px 8px;box-shadow:0 0 0 30px #1a1a1a;pointer-events:none"></div>
</body></html>
